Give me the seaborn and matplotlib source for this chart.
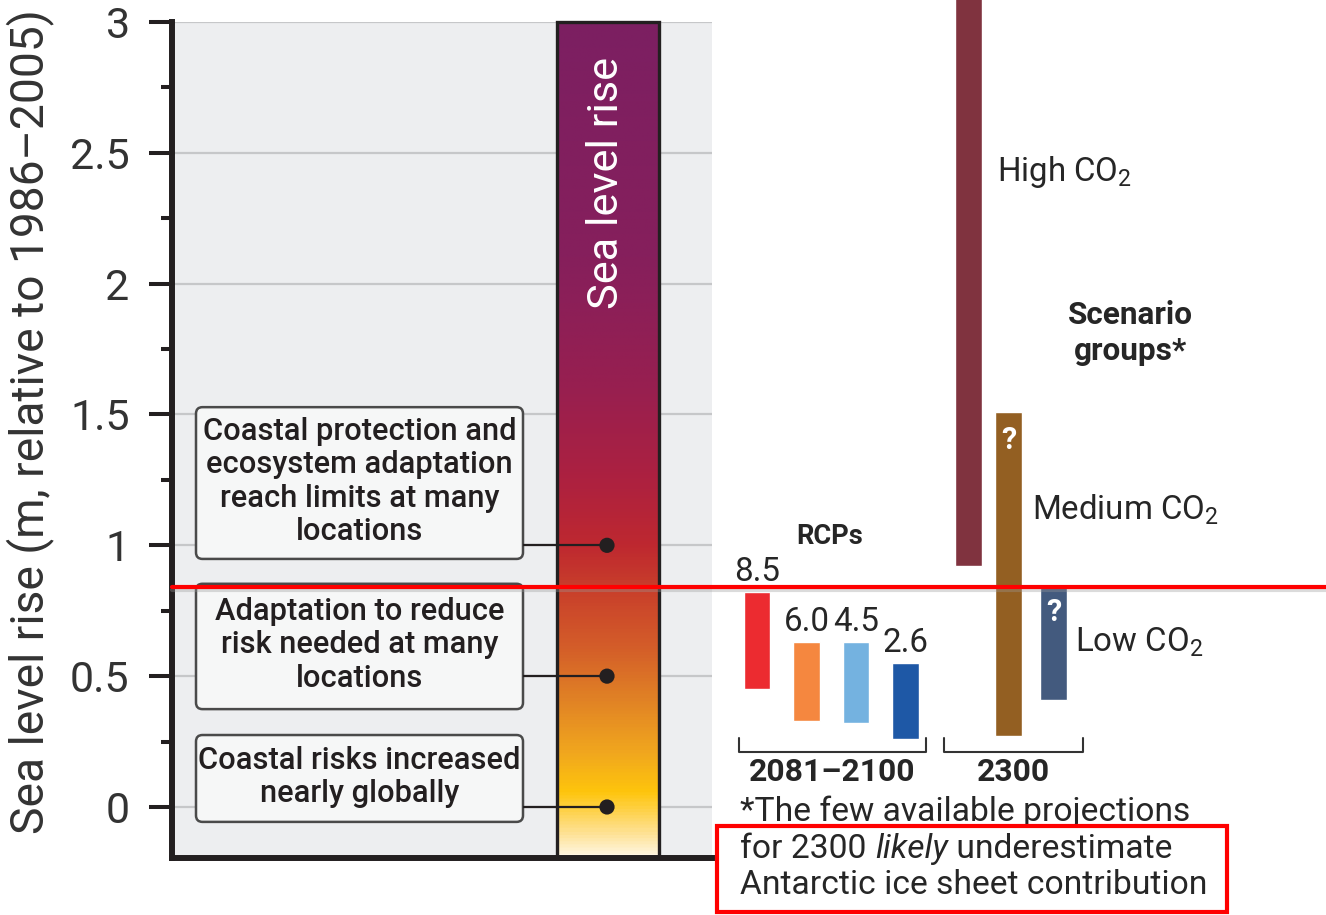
import numpy as np
import matplotlib
matplotlib.use("Agg")
import matplotlib.pyplot as plt
import matplotlib.transforms as mtransforms
import seaborn as sns
from matplotlib.colors import LinearSegmentedColormap
from matplotlib.patches import FancyBboxPatch, Rectangle
from matplotlib.lines import Line2D

# ---- data -------------------------------------------------------------
# RCP projections of global mean sea level rise for 2081-2100 (likely range, m)
rcp_labels = ["8.5", "6.0", "4.5", "2.6"]
rcp_low = [0.45, 0.33, 0.32, 0.26]
rcp_high = [0.82, 0.63, 0.63, 0.55]
rcp_colors = ["#EC2B30", "#F5873F", "#74B2E0", "#1E58A6"]

# Scenario groups for 2300 (m)
group_names = ["High", "Medium", "Low"]
group_low = [0.92, 0.27, 0.41]
group_high = [3.59, 1.51, 0.85]
group_colors = ["#80333F", "#935F22", "#435A7E"]
group_uncertain = [False, True, True]

# Risk levels marked along the sea level rise scale
risk_levels = [1.0, 0.5, 0.0]
risk_texts = [
    "Coastal protection and\necosystem adaptation\nreach limits at many\nlocations",
    "Adaptation to reduce\nrisk needed at many\nlocations",
    "Coastal risks increased\nnearly globally",
]

# Highlighted sea level threshold (m)
highlight_level = 0.84

ytick_values = [0, 0.5, 1, 1.5, 2, 2.5, 3]
ytick_labels = ["0", "0.5", "1", "1.5", "2", "2.5", "3"]

# Colour ramp of the sea level rise bar (value in m, colour)
ramp_values = [-0.195, -0.10, 0.05, 0.20, 0.40, 0.60, 0.84, 1.00, 1.25, 1.60, 2.10, 3.00]
ramp_colors = ["#FFF6E2", "#FEE08E", "#FEC50C", "#F1A71E", "#E18325", "#D45E29",
               "#C83D2B", "#BE2830", "#AD2140", "#981F50", "#861F5C", "#7C1F62"]

# ---- style ------------------------------------------------------------
sns.set_theme(style="white")
FONT = "Roboto"
plt.rcParams["font.family"] = [FONT, "DejaVu Sans"]
plt.rcParams["mathtext.fontset"] = "custom"
plt.rcParams["mathtext.rm"] = FONT
INK = "#231F20"
TXT = "#262626"

W, H = 1326, 915
fig = plt.figure(figsize=(W / 100, H / 100), dpi=100)
fig.patch.set_facecolor("white")
renderer = fig.canvas.get_renderer()


def fit(texts, target_px, vertical=False):
    """Scale the font size of a group of texts so the first one spans target_px."""
    bb = texts[0].get_window_extent(renderer)
    cur = bb.height if vertical else bb.width
    size = texts[0].get_fontsize() * target_px / cur
    for t in texts:
        t.set_fontsize(size)
    return size


def line_step(texts, size_pt, step_px):
    """Set line spacing so consecutive baselines are step_px apart."""
    for t in texts:
        t.set_linespacing(step_px / (0.94 * size_pt / 0.72))


YMIN, YMAX = -0.195, 3.0
ax = fig.add_axes([172 / W, 1 - 858 / H, (712 - 172) / W, (858 - 22) / H])
ax.set_facecolor("#EDEEF0")

# colour ramp bar
bx0, bx1 = (557 - 172) / 540, (659 - 172) / 540
grad = np.linspace(YMIN, YMAX, 800).reshape(-1, 1)
pos = [(v - YMIN) / (YMAX - YMIN) for v in ramp_values]
cmap = LinearSegmentedColormap.from_list("slr", list(zip(pos, ramp_colors)))
ax.imshow(grad, extent=[bx0, bx1, YMIN, YMAX], origin="lower", aspect="auto",
          cmap=cmap, vmin=YMIN, vmax=YMAX, zorder=2, interpolation="bilinear")
ax.add_patch(Rectangle((bx0, YMIN), bx1 - bx0, YMAX - YMIN, fill=False,
                       ec=INK, lw=2.4, zorder=3, clip_on=False))
dot_x = (607 - 172) / 540
ax.set_xlim(0, 1)
ax.set_ylim(YMIN, YMAX)
bar_title = ax.text(dot_x, 2.386, "Sea level rise", rotation=90, color="white",
                    ha="center", va="center", fontsize=32, zorder=4)
fit([bar_title], 252, vertical=True)

# horizontal grid
for v in ytick_values:
    ax.axhline(v, color="#C6C7C9", lw=1.6, zorder=1)

# risk boxes with connectors to the bar
box_x0, box_x1 = (196 - 172) / 540, (523 - 172) / 540
box_spans = [(0.948, 1.528), (0.374, 0.853), (-0.057, 0.275)]
box_texts = []
for (y0, y1), txt, lvl in zip(box_spans, risk_texts, risk_levels):
    ax.add_patch(FancyBboxPatch((box_x0, y0), box_x1 - box_x0, y1 - y0,
                                boxstyle="round,pad=0,rounding_size=0.012",
                                mutation_aspect=540 / 261.7,
                                fc="#F6F7F7", ec="#4A4A4A", lw=1.8, zorder=3))
    box_texts.append(ax.text((box_x0 + box_x1) / 2, (y0 + y1) / 2 + 0.006, txt,
                             ha="center", va="center", fontsize=25, color=INK,
                             fontweight="medium", zorder=4))
    ax.plot([box_x1, dot_x], [lvl, lvl], color=INK, lw=1.6, zorder=4,
            solid_capstyle="butt")
bs = fit(box_texts, 312)
line_step(box_texts, bs, 34.5)
sns.scatterplot(x=[dot_x] * len(risk_levels), y=risk_levels, s=120, color=INK,
                edgecolor="none", zorder=5, ax=ax, legend=False)

# axes spines and ticks
for s in ["top", "right"]:
    ax.spines[s].set_visible(False)
for s in ["left", "bottom"]:
    ax.spines[s].set_linewidth(4.3)
    ax.spines[s].set_color(INK)
    ax.spines[s].set_zorder(6)
ax.set_xticks([])
ax.set_yticks(ytick_values)
ax.set_yticklabels(ytick_labels)
ax.set_yticks(np.arange(0.25, 3.0, 0.5), minor=True)
ax.tick_params(axis="y", which="major", length=16.5, width=2.9, color=INK,
               pad=14, labelsize=31, labelcolor="#333333", left=True)
ax.tick_params(axis="y", which="minor", length=8, width=2.9, color=INK, left=True)
ylab = fig.text(30 / W, 1 - 422 / H, "Sea level rise (m, relative to 1986\u20132005)",
                rotation=90, ha="center", va="center", fontsize=36, color="#333333")
fit([ylab], 825, vertical=True)

# ---- right-hand panel: projection ranges -------------------------------
ax2 = fig.add_axes([712 / W, 1 - 858 / H, (1326 - 712) / W, (858 - 22) / H])
ax2.patch.set_alpha(0)
ax2.axis("off")
ax2.set_xlim(-0.909, 11.495)
ax2.set_ylim(YMIN, YMAX)

rcp_x = np.arange(len(rcp_labels), dtype=float)
group_x = np.array([4.273, 5.08, 5.99])
BW = 0.53

ax2.bar(rcp_x, np.subtract(rcp_high, rcp_low), bottom=rcp_low, width=BW,
        color=rcp_colors, zorder=3)
ax2.bar(group_x, np.subtract(group_high, group_low), bottom=group_low, width=BW,
        color=group_colors, zorder=3, clip_on=False)

rcp_texts = [ax2.annotate(lab, (x, top), xytext=(0, 8), textcoords="offset points",
                          ha="center", va="baseline", fontsize=26, color=TXT)
             for x, top, lab in zip(rcp_x, rcp_high, rcp_labels)]
fit(rcp_texts, 46)
for x, top, unc in zip(group_x, group_high, group_uncertain):
    if unc:
        ax2.annotate("?", (x, top), xytext=(0, -20), textcoords="offset points",
                     ha="center", va="center", fontsize=22, color="white",
                     fontweight="bold", zorder=4)

rcps = ax2.text(1.47, 1.032, "RCPs", ha="center", va="center", fontsize=23,
                fontweight="bold", color=TXT)
fit([rcps], 67)
scen = ax2.text(7.54, 1.811, "Scenario\ngroups*", ha="center", va="center",
                fontsize=23, fontweight="bold", color=TXT)
ss = fit([scen], 126)
line_step([scen], ss, 37)

label_pos = [(4.85, 2.426), (5.56, 1.135), (6.42, 0.63)]
co2_texts = [ax2.text(lx, ly, name + r" CO$_\mathregular{2}$", ha="left",
                      va="center", fontsize=26, color=TXT)
             for (lx, ly), name in zip(label_pos, group_names)]
fit(co2_texts, 135)

# period brackets
period_texts = []
for (x0, x1), lab in zip([(-0.364, 3.414), (3.778, 6.586)], ["2081\u20132100", "2300"]):
    ax2.plot([x0, x0, x1, x1], [0.264, 0.21, 0.21, 0.264], color="#333333",
             lw=1.5, clip_on=False)
    period_texts.append(ax2.text((x0 + x1) / 2, 0.135, lab, ha="center",
                                 va="center", fontsize=25, fontweight="bold",
                                 color=TXT))
fit(period_texts, 166)

# footnote
fx = -0.343
foot3 = ax2.text(fx, -0.298, "Antarctic ice sheet contribution", ha="left",
                 va="center", fontsize=26, color=TXT)
foot1 = ax2.text(fx, -0.019, "*The few available projections", ha="left",
                 va="center", fontsize=26, color=TXT)
t1 = ax2.text(fx, -0.16, "for 2300 ", ha="left", va="center", fontsize=26,
              color=TXT)
t2 = ax2.annotate("likely", xy=(1, 0), xycoords=t1, ha="left", va="bottom",
                  fontsize=26, color=TXT, style="italic")
t3 = ax2.annotate(" underestimate", xy=(1, 0), xycoords=t2, ha="left",
                  va="bottom", fontsize=26, color=TXT)
fit([foot3, foot1, t1, t2, t3], 467)

# ---- highlight overlays -----------------------------------------------
blend = mtransforms.blended_transform_factory(fig.transFigure, ax.transData)
shadow = mtransforms.offset_copy(blend, fig=fig, y=-3, units="dots")
fig.add_artist(Line2D([172 / W, 1], [highlight_level] * 2, transform=shadow,
                      color="#999999", lw=3, alpha=0.35, zorder=9))
fig.add_artist(Line2D([172 / W, 1], [highlight_level] * 2, transform=blend,
                      color="#FF0000", lw=3, zorder=10))
fig.add_artist(Rectangle((717 / W, 3 / H), 510 / W, 86 / H,
                         transform=fig.transFigure, fill=False, ec="#FF0000",
                         lw=3, zorder=10))

fig.savefig("out.png", dpi=100, facecolor="white")
